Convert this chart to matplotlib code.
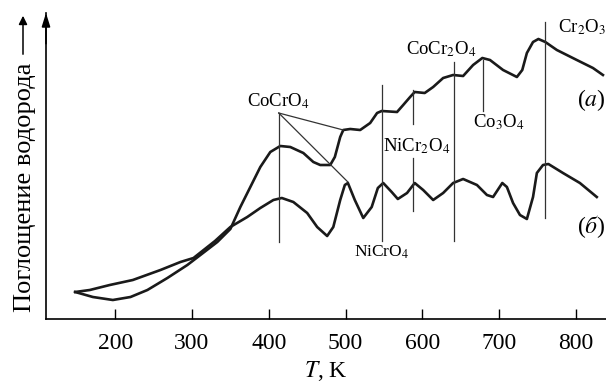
import matplotlib.pyplot as plt
from matplotlib.patches import FancyArrowPatch

plt.rcParams['font.family'] = 'serif'
plt.rcParams['font.serif'] = ['Liberation Serif', 'DejaVu Serif']
plt.rcParams['mathtext.fontset'] = 'stix'

# curve (a): temperature, K and signal (arbitrary units)
t_a = [148, 171, 197, 220, 242, 268, 294, 311, 333, 350, 363, 376, 389, 402,
       415, 428, 445, 458, 467, 480, 486, 493, 497, 506, 519, 532, 541, 547,
       567, 575, 584, 590, 603, 614, 627, 640, 653, 666, 678, 688, 705, 723,
       730, 736, 744, 751, 760, 775, 801, 822, 835]
h_a = [27, 22, 19, 22, 29, 41, 54, 64, 77, 90, 112, 132, 152, 167,
       173, 172, 166, 157, 154, 154, 162, 182, 189, 190, 189, 196, 206, 208,
       207, 214, 222, 227, 226, 232, 241, 244, 243, 254, 261, 259, 249, 242,
       249, 266, 277, 280, 277, 269, 259, 251, 244]

# curve (б)
t_b = [148, 167, 193, 223, 259, 285, 302, 330, 350, 372, 389, 406, 417, 432,
       450, 463, 476, 484, 493, 499, 503, 512, 523, 534, 542, 549, 560, 568,
       580, 590, 601, 614, 627, 640, 653, 671, 684, 692, 704, 710, 718, 727,
       736, 744, 749, 757, 764, 783, 805, 827]
h_b = [27, 29, 34, 39, 49, 57, 61, 78, 92, 102, 111, 119, 121, 117,
       106, 92, 83, 92, 119, 134, 136, 119, 101, 112, 131, 136, 127, 120,
       126, 136, 129, 119, 126, 136, 140, 134, 124, 122, 136, 132, 116, 104,
       100, 122, 146, 154, 155, 146, 136, 122]

# phase markers: position, K and vertical extent
phases = ['CoCrO$_4$', 'NiCrO$_4$', 'NiCr$_2$O$_4$', 'CoCr$_2$O$_4$', 'Co$_3$O$_4$', 'Cr$_2$O$_3$']
phase_t = [413, 547, 588, 641, 679, 760]
phase_top = [206, 234, 229, 257, 259, 297]
phase_bot = [77, 78, 108, 78, 208, 101]

xticks = [200, 300, 400, 500, 600, 700, 800]

fig = plt.figure(figsize=(6.06, 3.83), dpi=100)
ax = fig.add_axes([46 / 606, 64 / 383, 560 / 606, 306 / 383])

ax.plot(t_a, h_a, color='#1a1a1a', lw=1.9, solid_joinstyle='round')
ax.plot(t_b, h_b, color='#1a1a1a', lw=1.9, solid_joinstyle='round')

for i in range(len(phase_t)):
    if i == 2:
        # NiCr2O4 line is split by its label
        ax.plot([phase_t[i]] * 2, [phase_top[i], 195], color='#333333', lw=0.9)
        ax.plot([phase_t[i]] * 2, [161, phase_bot[i]], color='#333333', lw=0.9)
    else:
        ax.plot([phase_t[i]] * 2, [phase_top[i], phase_bot[i]], color='#333333', lw=0.9)

# extra leader lines from CoCrO4 label
ax.plot([413, 497], [206, 189], color='#333333', lw=0.9)
ax.plot([413, 503], [206, 137], color='#333333', lw=0.9)

fs = 13.5
ax.text(413, 218, phases[0], ha='center', va='center', fontsize=fs)
ax.text(547, 67, phases[1], ha='center', va='center', fontsize=fs - 1)
ax.text(593, 173, phases[2], ha='center', va='center', fontsize=fs)
ax.text(625, 270, phases[3], ha='center', va='center', fontsize=fs)
ax.text(666, 197, phases[4], ha='left', va='center', fontsize=fs)
ax.text(777, 292, phases[5], ha='left', va='center', fontsize=fs)
ax.text(801, 219, '($a$)', ha='left', va='center', fontsize=17)
ax.text(801, 92, '($\\mathit{б}$)', ha='left', va='center', fontsize=17)

ax.set_xlim(110, 839)
ax.set_ylim(0, 306)
ax.set_xticks(xticks)
ax.set_yticks([])
ax.tick_params(axis='x', direction='in', length=7, width=1, labelsize=17, pad=10)
ax.spines['top'].set_visible(False)
ax.spines['right'].set_visible(False)
ax.spines['left'].set_linewidth(1.2)
ax.spines['bottom'].set_linewidth(1.2)
ax.set_xlabel('$T$, K', fontsize=17, labelpad=4)

# arrow on the y axis
ax.annotate('', xy=(0, 1.0), xytext=(0, 0.9), xycoords='axes fraction',
            arrowprops=dict(arrowstyle='-|>,head_length=0.8,head_width=0.25',
                            color='black', lw=1.2, shrinkA=0, shrinkB=0))

fig.text(25 / 606, 1 - 187 / 383, 'Поглощение водорода', rotation=90,
         ha='center', va='center', fontsize=19)
fig.patches.append(FancyArrowPatch(
    (23 / 606, 1 - 57 / 383), (23 / 606, 1 - 13 / 383), transform=fig.transFigure,
    arrowstyle='-|>,head_length=5,head_width=2.5', color='black', lw=1.1))

fig.savefig('out.png', dpi=100)
